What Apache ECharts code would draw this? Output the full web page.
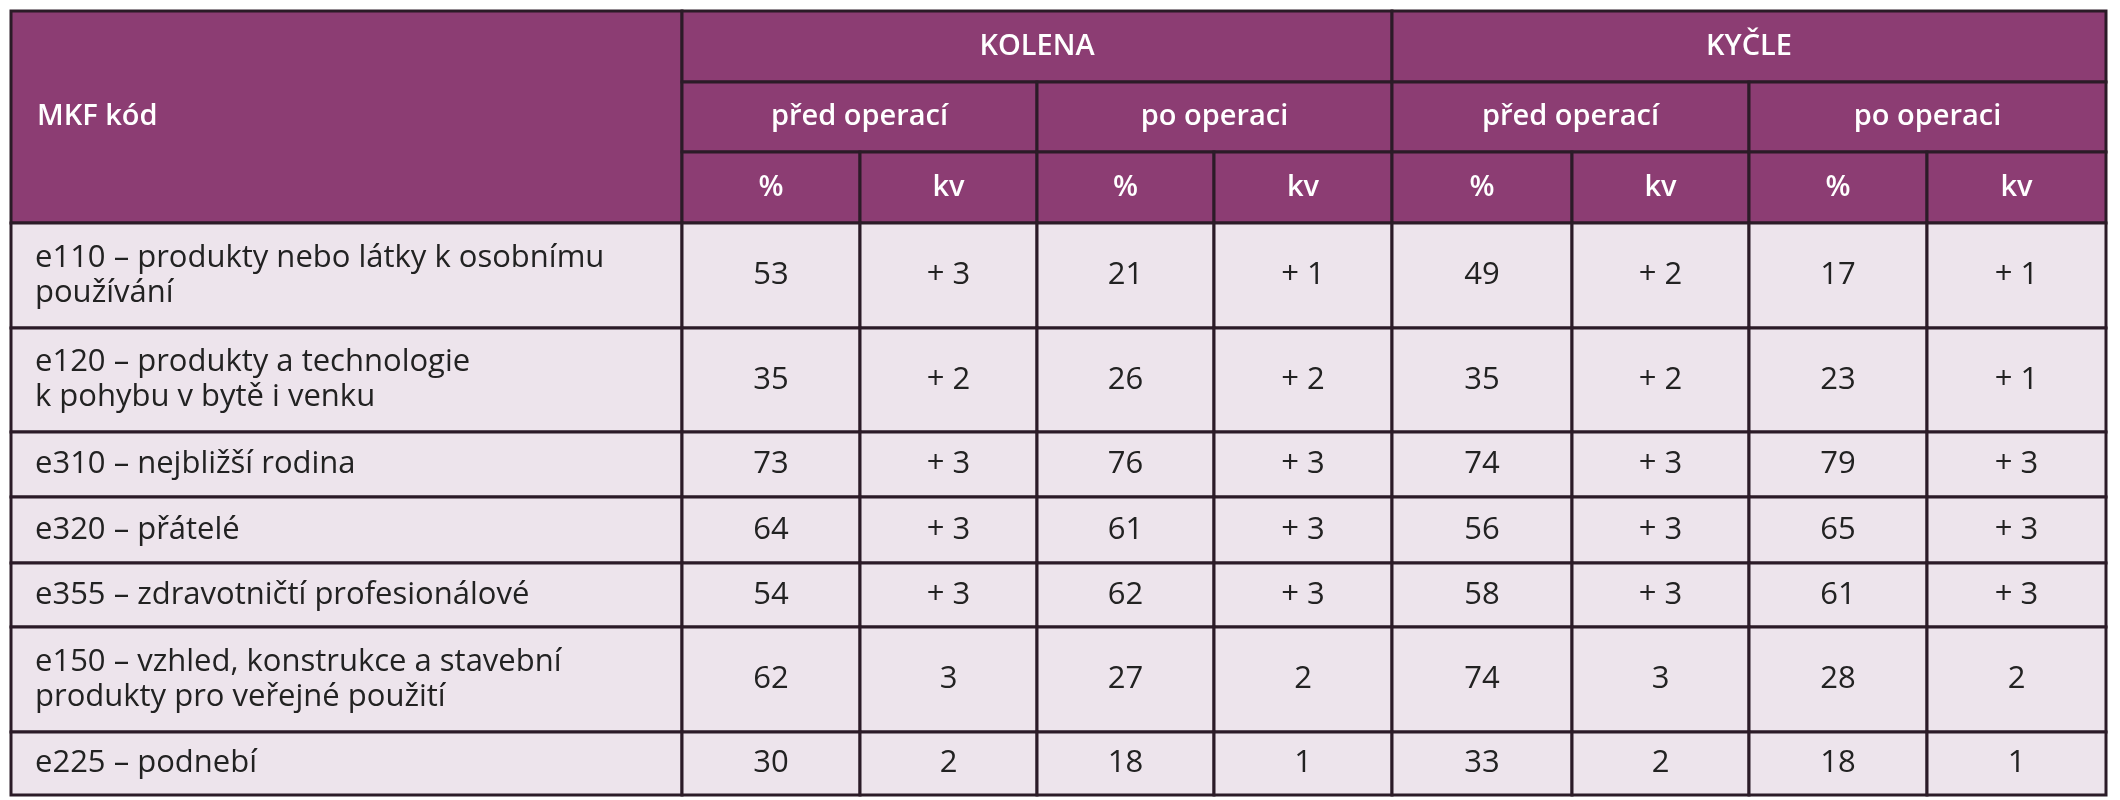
<!DOCTYPE html>
<html><head><meta charset="utf-8">
<script src="https://cdn.jsdelivr.net/npm/echarts@6/dist/echarts.min.js"></script>
<style>html,body{margin:0;padding:0;background:#fff}#c{width:2120px;height:800px}</style>
</head><body><div id="c"></div>
<script>
const groups = ['KOLENA', 'KYČLE'];
const phases = ['před operací', 'po operaci'];
const subCols = ['%', 'kv'];
const firstHeader = 'MKF kód';
const rowLabels = [
  'e110 – produkty nebo látky k osobnímu\npoužívání',
  'e120 – produkty a technologie\nk pohybu v bytě i venku',
  'e310 – nejbližší rodina',
  'e320 – přátelé',
  'e355 – zdravotničtí profesionálové',
  'e150 – vzhled, konstrukce a stavební\nprodukty pro veřejné použití',
  'e225 – podnebí'
];
const kolenaPredPct = ['53','35','73','64','54','62','30'];
const kolenaPredKv  = ['+ 3','+ 2','+ 3','+ 3','+ 3','3','2'];
const kolenaPoPct   = ['21','26','76','61','62','27','18'];
const kolenaPoKv    = ['+ 1','+ 2','+ 3','+ 3','+ 3','2','1'];
const kycledPredPct = ['49','35','74','56','58','74','33'];
const kycledPredKv  = ['+ 2','+ 2','+ 3','+ 3','+ 3','3','2'];
const kyclePoPct    = ['17','23','79','65','61','28','18'];
const kyclePoKv     = ['+ 1','+ 1','+ 3','+ 3','+ 3','2','1'];
const dataCols = [kolenaPredPct,kolenaPredKv,kolenaPoPct,kolenaPoKv,kycledPredPct,kycledPredKv,kyclePoPct,kyclePoKv];

const X0 = 11;
const colX = [682, 860, 1037, 1214, 1392, 1572, 1749, 1927, 2106];
const headerY = [11, 82, 152, 223];
const rowY = [223, 328, 432, 497, 563, 627, 732, 795];
const HEAD = '#8c3d73', BODY = '#ede4ec', LINE = '#2b1b27';
const FONT = '"Liberation Sans Narrow","Open Sans",sans-serif';
const els = [];
function rect(x,y,w,h,fill){els.push({type:'rect',shape:{x,y,width:w,height:h},style:{fill,stroke:LINE,lineWidth:3}});}
function text(x,y,t,opt){els.push({type:'text',x,y,style:Object.assign({text:t,font:'31px '+FONT,fill:'#222',align:'center',verticalAlign:'middle',lineHeight:35},opt||{})});}
const hb = {fill:'#fff', font:'600 29px '+FONT};
rect(X0,headerY[0],colX[0]-X0,headerY[3]-headerY[0],HEAD);
text(X0+26,(headerY[0]+headerY[3])/2,firstHeader,Object.assign({align:'left'},hb));
groups.forEach((g,gi)=>{
  const a=colX[gi*4], b=colX[gi*4+4];
  rect(a,headerY[0],b-a,headerY[1]-headerY[0],HEAD);
  text((a+b)/2,(headerY[0]+headerY[1])/2,g,hb);
  phases.forEach((p,pi)=>{
    const c=colX[gi*4+pi*2], d=colX[gi*4+pi*2+2];
    rect(c,headerY[1],d-c,headerY[2]-headerY[1],HEAD);
    text((c+d)/2,(headerY[1]+headerY[2])/2,p,hb);
    subCols.forEach((s,si)=>{
      const k=gi*4+pi*2+si, e=colX[k], f=colX[k+1];
      rect(e,headerY[2],f-e,headerY[3]-headerY[2],HEAD);
      text((e+f)/2,(headerY[2]+headerY[3])/2,s,hb);
    });
  });
});
rowLabels.forEach((lab,ri)=>{
  const y0=rowY[ri], y1=rowY[ri+1], ym=(y0+y1)/2;
  rect(X0,y0,colX[0]-X0,y1-y0,BODY);
  text(X0+24,ym,lab,{align:'left'});
  dataCols.forEach((col,ci)=>{
    const x=colX[ci], w=colX[ci+1]-x;
    rect(x,y0,w,y1-y0,BODY);
    text(x+w/2,ym,col[ri]);
  });
});
const chart = echarts.init(document.getElementById('c'));
chart.setOption({graphic:{elements:els}});
</script></body></html>
